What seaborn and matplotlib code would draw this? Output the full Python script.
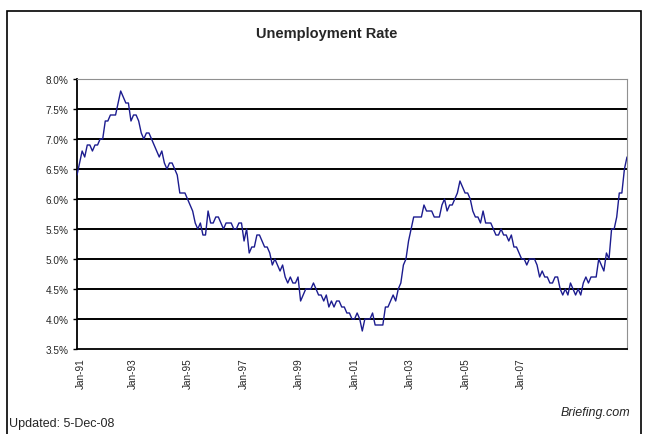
import numpy as np
import pandas as pd
import matplotlib
matplotlib.use("Agg")
import matplotlib.pyplot as plt
from matplotlib.patches import Rectangle
import seaborn as sns

# Monthly unemployment rate (%), Jan-1991 .. Nov-2008
rate = [
    6.4, 6.6, 6.8, 6.7, 6.9, 6.9, 6.8, 6.9, 6.9, 7.0, 7.0, 7.3,   # 1991
    7.3, 7.4, 7.4, 7.4, 7.6, 7.8, 7.7, 7.6, 7.6, 7.3, 7.4, 7.4,   # 1992
    7.3, 7.1, 7.0, 7.1, 7.1, 7.0, 6.9, 6.8, 6.7, 6.8, 6.6, 6.5,   # 1993
    6.6, 6.6, 6.5, 6.4, 6.1, 6.1, 6.1, 6.0, 5.9, 5.8, 5.6, 5.5,   # 1994
    5.6, 5.4, 5.4, 5.8, 5.6, 5.6, 5.7, 5.7, 5.6, 5.5, 5.6, 5.6,   # 1995
    5.6, 5.5, 5.5, 5.6, 5.6, 5.3, 5.5, 5.1, 5.2, 5.2, 5.4, 5.4,   # 1996
    5.3, 5.2, 5.2, 5.1, 4.9, 5.0, 4.9, 4.8, 4.9, 4.7, 4.6, 4.7,   # 1997
    4.6, 4.6, 4.7, 4.3, 4.4, 4.5, 4.5, 4.5, 4.6, 4.5, 4.4, 4.4,   # 1998
    4.3, 4.4, 4.2, 4.3, 4.2, 4.3, 4.3, 4.2, 4.2, 4.1, 4.1, 4.0,   # 1999
    4.0, 4.1, 4.0, 3.8, 4.0, 4.0, 4.0, 4.1, 3.9, 3.9, 3.9, 3.9,   # 2000
    4.2, 4.2, 4.3, 4.4, 4.3, 4.5, 4.6, 4.9, 5.0, 5.3, 5.5, 5.7,   # 2001
    5.7, 5.7, 5.7, 5.9, 5.8, 5.8, 5.8, 5.7, 5.7, 5.7, 5.9, 6.0,   # 2002
    5.8, 5.9, 5.9, 6.0, 6.1, 6.3, 6.2, 6.1, 6.1, 6.0, 5.8, 5.7,   # 2003
    5.7, 5.6, 5.8, 5.6, 5.6, 5.6, 5.5, 5.4, 5.4, 5.5, 5.4, 5.4,   # 2004
    5.3, 5.4, 5.2, 5.2, 5.1, 5.0, 5.0, 4.9, 5.0, 5.0, 5.0, 4.9,   # 2005
    4.7, 4.8, 4.7, 4.7, 4.6, 4.6, 4.7, 4.7, 4.5, 4.4, 4.5, 4.4,   # 2006
    4.6, 4.5, 4.4, 4.5, 4.4, 4.6, 4.7, 4.6, 4.7, 4.7, 4.7, 5.0,   # 2007
    4.9, 4.8, 5.1, 5.0, 5.5, 5.5, 5.7, 6.1, 6.1, 6.5, 6.7,        # 2008
]
x_labels = ["Jan-91", "Jan-93", "Jan-95", "Jan-97", "Jan-99",
            "Jan-01", "Jan-03", "Jan-05", "Jan-07"]
y_ticks = [3.5, 4.0, 4.5, 5.0, 5.5, 6.0, 6.5, 7.0, 7.5, 8.0]
title = "Unemployment Rate"
note_left = "Updated: 5-Dec-08"
note_right = "Briefing.com"

df = pd.DataFrame({"idx": np.arange(len(rate)), "rate": rate})

sns.set_style("white")
plt.rcParams["font.family"] = ["Liberation Sans", "DejaVu Sans"]

fig = plt.figure(figsize=(6.47, 4.35), dpi=100)
ax = fig.add_axes([77 / 647, 1 - 350 / 435, 550 / 647, 270 / 435])

# gridlines
for v in y_ticks[1:-1]:
    ax.axhline(v, color="black", lw=1.4, zorder=1)

sns.lineplot(data=df, x="idx", y="rate", ax=ax, color="#1c1c8f", lw=1.0, zorder=3)

n = len(rate) - 1
ax.set_xlim(0, n)
ax.set_ylim(3.5, 8.0)
ax.set_yticks(y_ticks)
ax.set_yticklabels([f"{v:.1f}%" for v in y_ticks], fontsize=7.2)

step = n * 55.4 / 549
xt = np.arange(len(x_labels)) * step
xt[0] = 1.6
ax.set_xticks(xt)
ax.set_xticklabels(x_labels, rotation=90, fontsize=7.2)
ax.tick_params(axis="x", length=0, pad=6)
ax.tick_params(axis="y", length=3, width=1, color="black", pad=3, left=True)
ax.set_xlabel("")
ax.set_ylabel("")

for s in ["left", "bottom"]:
    ax.spines[s].set_color("black")
    ax.spines[s].set_linewidth(1.3)
for s in ["top", "right"]:
    ax.spines[s].set_color("#909090")
    ax.spines[s].set_linewidth(0.8)
    ax.spines[s].set_linestyle((0, (1, 1)))

fig.text(327 / 647, 1 - 34 / 435, title, ha="center", va="center",
         fontsize=10.5, fontweight="bold")
fig.text(9 / 647, 1 - 424 / 435, note_left, ha="left", va="center", fontsize=9)
fig.text(630 / 647, 1 - 413 / 435, note_right, ha="right", va="center",
         fontsize=9, style="italic")

fig.patches.append(Rectangle((7 / 647, -0.02), (641 - 7) / 647, 1 - 12 / 435 + 0.02,
                             transform=fig.transFigure, fill=False,
                             edgecolor="black", lw=1.2))

fig.savefig("out.png", dpi=100)
